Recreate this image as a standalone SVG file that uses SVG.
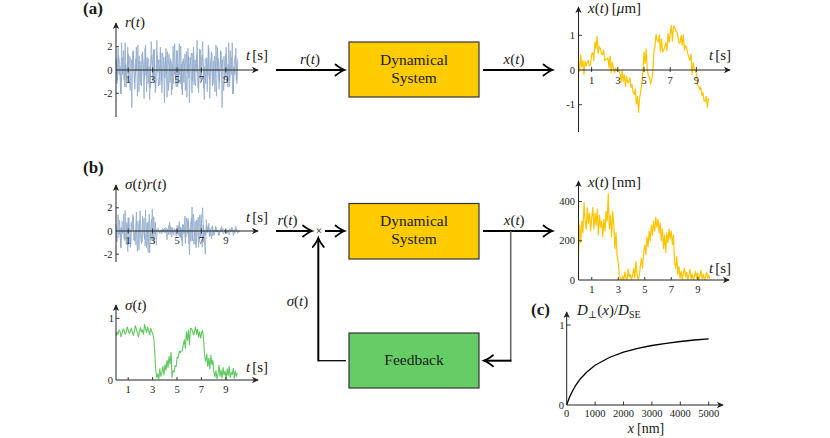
<svg xmlns="http://www.w3.org/2000/svg" xmlns:xlink="http://www.w3.org/1999/xlink" width="830" height="438" viewBox="0 0 830 438">
<style>
text{font-family:"Liberation Serif","Times New Roman",Times,"DejaVu Serif","Noto Serif",serif;fill:#1a1a1a}
.it{font-style:italic}
.lb{font-size:15px}
.tr{font-size:10.5px;text-anchor:end}
.tc{font-size:10.5px;text-anchor:middle}
.pl{font-size:17px;font-weight:bold}
.bt{font-size:15.5px;text-anchor:middle}
.ax{stroke:#222;stroke-width:1;fill:none}
.tk{stroke:#222;stroke-width:0.9;fill:none}
.conn{stroke:#000;stroke-width:2;fill:none}
.noise{fill:none;stroke:#8ea8cb;stroke-width:0.9;stroke-opacity:0.85;stroke-linejoin:round}
.yel{fill:none;stroke:#ffc400;stroke-width:1.2;stroke-linejoin:round}
.grn{fill:none;stroke:#5fc85f;stroke-width:1.1;stroke-linejoin:round}
</style>
<defs>
<marker id="ah" markerUnits="userSpaceOnUse" markerWidth="12" markerHeight="14" refX="0" refY="0" orient="auto" style="overflow:visible">
<path d="M-9,-5.5 Q-3.5,-1.2 0,0 Q-3.5,1.2 -9,5.5" fill="none" stroke="#000" stroke-width="1.8" stroke-linecap="round"/>
</marker>
<marker id="axh" markerUnits="userSpaceOnUse" markerWidth="8" markerHeight="8" refX="0" refY="0" orient="auto" style="overflow:visible">
<path d="M-6,-3.2 L0.8,0 L-6,3.2 L-4.2,0 Z" fill="#222"/>
</marker>
<polyline id="rdat" vector-effect="non-scaling-stroke" points="0,0.8 1,-1.2 2,1.9 3,-0.4 4,0.3 5,-2.1 6,1.1 7,0.6 8,-0.9 9,2.4 10,-1.5 11,0.2 12,1.4 13,-0.7 14,-1.8 15,0.9 16,0.1 17,1.7 18,-1.1 19,-0.3 20,2.0 21,-2.3 22,0.5 23,1.2 24,-0.6 25,-1.4 26,1.6 27,0 28,-0.8 29,2.2 30,-1.9 31,0.7 32,1.0 33,-2.6 34,0.4 35,1.3 36,-1.0 37,1.8 38,-0.5 39,-1.6 40,2.6 41,-0.2 42,0.9 43,-1.3 44,1.5 45,-2.0 46,0.6 47,1.1 48,-0.7 49,1.9 50,-2.4 51,0.3 52,1.4 53,-1.1 54,0.8 55,-1.7 56,2.1 57,-0.4 58,0.2 59,-1.5 60,1.7 61,-0.9 62,2.3 63,-1.2 64,0.5 65,-2.2 66,1.0 67,0.4 68,-1.8 69,1.6 70,-0.3 71,1.2 72,-2.9 73,0.7 74,1.5 75,-1.0 76,2.0 77,-0.6 78,-1.4 79,1.3 80,0.1 81,-2.0 82,1.8 83,-0.8 84,0.9 85,2.5 86,-1.6 87,0.3 88,-1.2 89,1.1 90,-0.5 91,1.9 92,-2.5 93,0.6 94,1.4 95,-1.3 96,0.8 97,-1.9 98,2.2 99,-0.1 100,1.0 101,-1.7 102,0.4 103,1.6 104,-3.3 105,0.9 106,1.2 107,-0.7 108,2.0 109,-1.1 110,0.5 111,-1.5 112,1.7 113,-0.4 114,2.4 115,-2.1 116,0.7 117,1.3 118,-0.9 119,1.0"/>
<polyline id="srdat" vector-effect="non-scaling-stroke" points="0,0.58 1,-0.94 2,1.41 3,-0.32 4,0.24 5,-1.47 6,0.84 7,0.5 8,-0.72 9,1.78 10,-1.17 11,0.17 12,1.13 13,-0.53 14,-1.42 15,0.76 16,0.08 17,1.22 18,-0.88 19,-0.26 20,1.64 21,-1.75 22,0.35 23,0.95 24,-0.51 25,-1.09 26,1.3 27,0 28,-0.72 29,1.83 30,-1.46 31,0.6 32,0.8 33,-1.9 34,0.34 35,1.03 36,-0.75 37,1.22 38,-0.23 39,-0.24 40,0.1 41,-0.02 42,0.02 43,-0.23 44,0.09 45,-0.24 46,0.13 47,0.09 48,-0.18 49,0.3 50,-0.77 51,0.06 52,0.53 53,-0.29 54,0.36 55,-0.2 56,0.08 57,-0.06 58,0.04 59,-0.45 60,0.48 61,-0.37 62,0.81 63,-0.6 64,0.22 65,-1.28 66,0.52 67,0.25 68,-1.08 69,1.12 70,-0.2 71,0.9 72,-2.06 73,0.56 74,1.14 75,-0.84 76,1.46 77,-0.47 78,-1.2 79,0.96 80,0.08 81,-1.4 82,1.4 83,-0.54 84,0.69 85,2 86,-0.99 87,0.11 88,-0.36 89,0.46 90,-0.11 91,0.67 92,-0.45 93,0.24 94,0.35 95,-0.42 96,0.1 97,-0.1 98,0.33 99,0 100,0.1 101,-0.41 102,0.02 103,0.26 104,-0.1 105,0.18 106,0.1 107,-0.1 108,0.02 109,-0.2 110,0.04 111,-0.33 112,0.07 113,-0.05 114,0.22 115,-0.4 116,0.02 117,0.2 118,-0.05 119,0.11"/>
</defs>

<g id="panel-labels">
<text class="pl" x="83" y="14">(a)</text>
<text class="pl" x="83" y="173">(b)</text>
<text class="pl" x="531" y="315">(c)</text>
</g>

<g id="plot-r">
<use xlink:href="#rdat" href="#rdat" class="noise" transform="translate(116,70) scale(1.02,-11.4)"/>
<use xlink:href="#rdat" href="#rdat" class="noise" transform="translate(237.9,70) scale(-1.02,-11.4)"/>
<path class="ax" d="M116,117 V23" marker-end="url(#axh)"/>
<path class="ax" d="M116,70 H258" marker-end="url(#axh)"/>
<path class="tk" d="M128.2,67.5V72.5M152.6,67.5V72.5M177,67.5V72.5M201.4,67.5V72.5M225.8,67.5V72.5M116,46.7h3M116,93.3h3"/>
<text class="tc" x="128.2" y="82.5">1</text><text class="tc" x="152.6" y="82.5">3</text><text class="tc" x="177" y="82.5">5</text><text class="tc" x="201.4" y="82.5">7</text><text class="tc" x="225.8" y="82.5">9</text>
<text class="tr" x="112.5" y="50.2">2</text><text class="tr" x="112.5" y="73.5">0</text><text class="tr" x="112.5" y="96.8">-2</text>
<text class="lb" x="125" y="27"><tspan class="it">r</tspan>(<tspan class="it">t</tspan>)</text>
<text class="lb" x="246" y="60"><tspan class="it">t</tspan><tspan dx="2">[s]</tspan></text>
</g>

<g id="plot-x-um">
<polyline class="yel" vector-effect="non-scaling-stroke" transform="translate(578.5,70) scale(1.092,-34.7)" points="0,0.26 1,-0.03 2,0.43 3,0.09 4,0.27 5,-0.13 6,0.26 7,0.12 8,0.22 9,0.27 10,0.12 11,0.16 12,0.45 13,0.5 14,0.27 15,0.81 16,0.61 17,0.97 18,0.47 19,0.68 20,0.62 21,0.46 22,0.44 23,0.58 24,0.26 25,0.32 26,0.31 27,0.35 28,0.06 29,0.4 30,-0.08 31,0.23 32,0.05 33,-0.08 34,0.05 35,0.01 36,-0.02 37,-0.02 38,-0.09 39,-0.36 40,0 41,-0.33 42,-0.14 43,-0.47 44,-0.18 45,-0.36 46,-0.36 47,-0.22 48,-0.5 49,-0.42 50,-0.65 51,-0.7 52,-0.55 53,-0.98 54,-0.76 55,-1.22 56,-0.8 57,-0.63 58,-0.34 59,-0.06 60,0.52 61,0.19 62,0.61 63,0.02 64,-0.17 65,-0.2 66,-0.41 67,-0.27 68,-0.08 69,0.51 70,0.68 71,1.03 72,0.85 73,0.8 74,1.01 75,0.53 76,0.89 77,0.51 78,0.58 79,0.67 80,0.79 81,0.56 82,1.05 83,0.79 84,1.06 85,1.28 86,0.84 87,1.27 88,1.24 89,1.13 90,1.12 91,0.98 92,0.78 93,0.79 94,1 95,0.71 96,1.01 97,0.57 98,0.7 99,0.64 100,0.47 101,0.38 102,0.28 103,0.46 104,-0.13 105,0.21 106,0.03 107,-0.03 108,-0.11 109,-0.43 110,-0.47 111,-0.56 112,-0.5 113,-0.73 114,-0.65 115,-0.9 116,-0.9 117,-0.76 118,-1.08 119,-0.81"/>
<path class="ax" d="M578.5,132 V7" marker-end="url(#axh)"/>
<path class="ax" d="M578.5,70 H730" marker-end="url(#axh)"/>
<path class="tk" d="M591.6,67V72M617.8,67V72M644,67V72M670.2,67V72M696.4,67V72M578.5,35.3h3.5M578.5,104.7h3.5"/>
<text class="tc" x="591.6" y="83.5">1</text><text class="tc" x="617.8" y="83.5">3</text><text class="tc" x="644" y="83.5">5</text><text class="tc" x="670.2" y="83.5">7</text><text class="tc" x="696.4" y="83.5">9</text>
<text class="tr" x="575" y="38.8">1</text><text class="tr" x="575" y="73.5">0</text><text class="tr" x="575" y="108.2">-1</text>
<text class="lb" x="588" y="12.5"><tspan class="it">x</tspan>(<tspan class="it">t</tspan>)<tspan dx="3">[</tspan><tspan class="it">μ</tspan>m]</text>
<text class="lb" x="709" y="60"><tspan class="it">t</tspan><tspan dx="2">[s]</tspan></text>
</g>

<g id="plot-sr">
<use xlink:href="#srdat" href="#srdat" class="noise" transform="translate(116,231) scale(1.02,-11.6)"/>
<use xlink:href="#srdat" href="#srdat" class="noise" transform="translate(118.6,231) scale(1.02,11.6)"/>
<path class="ax" d="M116,262 V185" marker-end="url(#axh)"/>
<path class="ax" d="M116,231 H258" marker-end="url(#axh)"/>
<path class="tk" d="M128.2,228.5V233.5M152.6,228.5V233.5M177,228.5V233.5M201.4,228.5V233.5M225.8,228.5V233.5M116,207.8h3M116,254.2h3"/>
<text class="tc" x="128.2" y="243.5">1</text><text class="tc" x="152.6" y="243.5">3</text><text class="tc" x="177" y="243.5">5</text><text class="tc" x="201.4" y="243.5">7</text><text class="tc" x="225.8" y="243.5">9</text>
<text class="tr" x="112.5" y="211.3">2</text><text class="tr" x="112.5" y="234.5">0</text><text class="tr" x="112.5" y="257.7">-2</text>
<text class="lb" x="125" y="189"><tspan class="it">σ</tspan>(<tspan class="it">t</tspan>)<tspan class="it">r</tspan>(<tspan class="it">t</tspan>)</text>
<text class="lb" x="246" y="222"><tspan class="it">t</tspan><tspan dx="2">[s]</tspan></text>
</g>

<g id="plot-sigma">
<polyline class="grn" vector-effect="non-scaling-stroke" transform="translate(116,380) scale(1.02,-61.7)" points="0,0.72 1,0.78 2,0.74 3,0.81 4,0.79 5,0.7 6,0.76 7,0.83 8,0.8 9,0.74 10,0.78 11,0.86 12,0.81 13,0.75 14,0.79 15,0.84 16,0.77 17,0.72 18,0.8 19,0.88 20,0.82 21,0.76 22,0.7 23,0.79 24,0.85 25,0.78 26,0.81 27,0.74 28,0.9 29,0.83 30,0.77 31,0.86 32,0.8 33,0.73 34,0.84 35,0.79 36,0.75 37,0.68 38,0.45 39,0.15 40,0.04 41,0.1 42,0.02 43,0.18 44,0.06 45,0.12 46,0.22 47,0.08 48,0.25 49,0.16 50,0.32 51,0.2 52,0.38 53,0.26 54,0.45 55,0.04 56,0.15 57,0.13 58,0.23 59,0.22 60,0.37 61,0.36 62,0.47 63,0.44 64,0.47 65,0.47 66,0.57 67,0.65 68,0.51 69,0.78 70,0.64 71,0.81 72,0.57 73,0.84 74,0.83 75,0.79 76,0.73 77,0.79 78,0.86 79,0.74 80,0.82 81,0.7 82,0.78 83,0.68 84,0.77 85,0.8 86,0.62 87,0.38 88,0.3 89,0.42 90,0.22 91,0.35 92,0.18 93,0.4 94,0.25 95,0.32 96,0.12 97,0.05 98,0.15 99,0.02 100,0.1 101,0.24 102,0.06 103,0.16 104,0.03 105,0.2 106,0.08 107,0.14 108,0.01 109,0.18 110,0.07 111,0.22 112,0.04 113,0.12 114,0.09 115,0.19 116,0.03 117,0.15 118,0.06 119,0.11"/>
<path class="ax" d="M116,380 V305" marker-end="url(#axh)"/>
<path class="ax" d="M116,380 H258" marker-end="url(#axh)"/>
<path class="tk" d="M128.2,377V380M152.6,377V380M177,377V380M201.4,377V380M225.8,377V380M116,318.3h3.5"/>
<text class="tc" x="128.2" y="392.5">1</text><text class="tc" x="152.6" y="392.5">3</text><text class="tc" x="177" y="392.5">5</text><text class="tc" x="201.4" y="392.5">7</text><text class="tc" x="225.8" y="392.5">9</text>
<text class="tr" x="114" y="321.8">1</text><text class="tr" x="113" y="383.5">0</text>
<text class="lb" x="125" y="310"><tspan class="it">σ</tspan>(<tspan class="it">t</tspan>)</text>
<text class="lb" x="246" y="372"><tspan class="it">t</tspan><tspan dx="2">[s]</tspan></text>
</g>

<g id="plot-x-nm">
<polyline class="yel" vector-effect="non-scaling-stroke" transform="translate(578.5,280) scale(1.104,-0.196)" points="0,130 1,280 2,190 3,300 4,240 5,395 6,300 7,260 8,370 9,290 10,340 11,250 12,320 13,370 14,260 15,340 16,280 17,360 18,230 19,330 20,270 21,300 22,220 23,310 24,250 25,350 26,300 27,440 28,260 29,330 30,220 31,350 32,280 33,160 34,240 35,120 36,90 37,30 38,5 39,0 40,20 41,0 42,40 43,10 44,0 45,55 46,15 47,30 48,0 49,25 50,60 51,10 52,95 53,30 54,0 55,20 56,70 57,110 58,60 59,140 60,180 61,130 62,220 63,170 64,250 65,200 66,280 67,230 68,300 69,250 70,320 71,270 72,310 73,240 74,290 75,200 76,260 77,160 78,230 79,140 80,240 81,190 82,260 83,210 84,250 85,180 86,230 87,90 88,60 89,120 90,30 91,70 92,10 93,45 94,0 95,35 96,60 97,15 98,40 99,0 100,25 101,55 102,5 103,30 104,0 105,20 106,45 107,10 108,35 109,0 110,25 111,50 112,5 113,30 114,0 115,15 116,40 117,10 118,25 119,5"/>
<path class="ax" d="M578.5,280 V181" marker-end="url(#axh)"/>
<path class="ax" d="M578.5,280 H729" marker-end="url(#axh)"/>
<path class="tk" d="M591.75,277V280M618.25,277V280M644.75,277V280M671.25,277V280M697.75,277V280M578.5,240.8h3.5M578.5,201.6h3.5"/>
<text class="tc" x="591.75" y="293">1</text><text class="tc" x="618.25" y="293">3</text><text class="tc" x="644.75" y="293">5</text><text class="tc" x="671.25" y="293">7</text><text class="tc" x="697.75" y="293">9</text>
<text class="tr" x="575" y="205">400</text><text class="tr" x="575" y="244.3">200</text><text class="tr" x="575" y="283.5">0</text>
<text class="lb" x="588" y="187"><tspan class="it">x</tspan>(<tspan class="it">t</tspan>)<tspan dx="3">[nm]</tspan></text>
<text class="lb" x="709" y="273"><tspan class="it">t</tspan><tspan dx="2">[s]</tspan></text>
</g>

<g id="plot-D">
<path d="M566.7,405 L568.1,400.9 L569.5,397.3 L572.4,391.2 L575.2,386.2 L578.1,381.9 L580.9,378.2 L586.6,372.2 L595.1,365.3 L609.3,357.5 L623.5,352.2 L637.7,348.4 L651.9,345.5 L666.1,343.3 L680.3,341.5 L694.5,340 L708.7,338.8" fill="none" stroke="#000" stroke-width="1.3" stroke-linejoin="round"/>
<path class="ax" d="M566.7,405 V312" marker-end="url(#axh)"/>
<path class="ax" d="M566.7,405 H723" marker-end="url(#axh)"/>
<path class="tk" d="M595.1,401.5V405M623.5,401.5V405M651.9,401.5V405M680.3,401.5V405M708.7,401.5V405M566.7,325h4"/>
<text class="tc" x="566.7" y="417">0</text><text class="tc" x="595.1" y="417">1000</text><text class="tc" x="623.5" y="417">2000</text><text class="tc" x="651.9" y="417">3000</text><text class="tc" x="680.3" y="417">4000</text><text class="tc" x="708.7" y="417">5000</text>
<text class="tr" x="564.5" y="328.5">1</text><text class="tr" x="564" y="408.5">0</text>
<text class="lb" x="577" y="315"><tspan class="it">D</tspan><tspan font-size="10" dy="3">⊥</tspan><tspan dy="-3">(</tspan><tspan class="it">x</tspan>)/<tspan class="it">D</tspan><tspan font-size="10" dy="3">SE</tspan></text>
<text x="646" y="433" font-size="14" text-anchor="middle"><tspan class="it">x</tspan><tspan dx="3">[nm]</tspan></text>
</g>

<g id="dynamical-system-a">
<rect x="349" y="42" width="130" height="55" fill="#ffcc00" stroke="#333" stroke-width="1.2"/>
<text class="bt" x="414" y="65">Dynamical</text>
<text class="bt" x="414" y="83">System</text>
</g>
<g id="dynamical-system-b">
<rect x="349" y="203.5" width="130" height="55.5" fill="#ffcc00" stroke="#333" stroke-width="1.2"/>
<text class="bt" x="414" y="225.5">Dynamical</text>
<text class="bt" x="414" y="243.5">System</text>
</g>
<g id="feedback">
<rect x="349" y="333" width="130" height="55" fill="#66cc66" stroke="#333" stroke-width="1.2"/>
<text class="bt" x="414" y="364.5">Feedback</text>
</g>
<g id="multiplier">
<text x="319" y="235" font-size="12" text-anchor="middle" fill="#333">×</text>
</g>

<g id="connectors">
<path class="conn" d="M276,70 H344.5" marker-end="url(#ah)"/>
<path class="conn" d="M483,70 H552.5" marker-end="url(#ah)"/>
<path class="conn" d="M276,231 H312" marker-end="url(#ah)"/>
<path class="conn" d="M325,231 H344.5" marker-end="url(#ah)"/>
<path class="conn" d="M483,231 H552.5" marker-end="url(#ah)"/>
<path d="M510.7,231 V360.7" fill="none" stroke="#666" stroke-width="1.6"/>
<path class="conn" d="M511.5,360.7 H484" marker-end="url(#ah)"/>
<path d="M346,360.7 H318.3" fill="none" stroke="#000" stroke-width="1.3"/>
<path class="conn" d="M318.3,361.3 V238" marker-end="url(#ah)"/>
<text class="lb" x="310" y="64" text-anchor="middle"><tspan class="it">r</tspan>(<tspan class="it">t</tspan>)</text>
<text class="lb" x="514" y="64" text-anchor="middle"><tspan class="it">x</tspan>(<tspan class="it">t</tspan>)</text>
<text class="lb" x="287.5" y="225" text-anchor="middle"><tspan class="it">r</tspan>(<tspan class="it">t</tspan>)</text>
<text class="lb" x="514.2" y="225" text-anchor="middle"><tspan class="it">x</tspan>(<tspan class="it">t</tspan>)</text>
<text class="lb" x="297.5" y="306" text-anchor="middle"><tspan class="it">σ</tspan>(<tspan class="it">t</tspan>)</text>
</g>
</svg>
